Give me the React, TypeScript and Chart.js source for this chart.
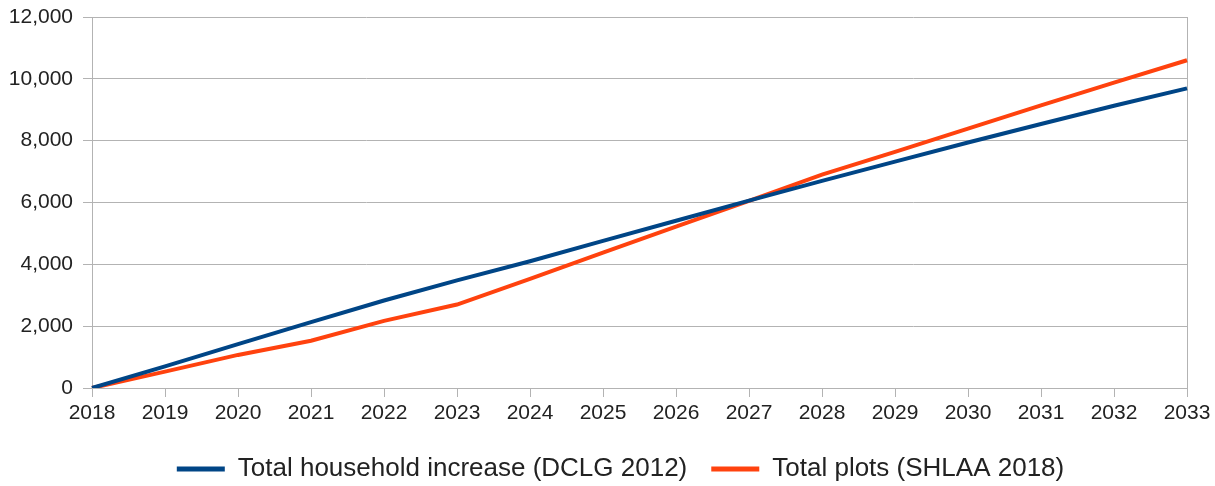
import React, { useEffect, useRef } from "react";
import { Chart, registerables } from "chart.js";

Chart.register(...registerables);

const years = ["2018","2019","2020","2021","2022","2023","2024","2025","2026","2027","2028","2029","2030","2031","2032","2033"];
const householdIncrease = [0, 700, 1420, 2130, 2830, 3480, 4100, 4760, 5410, 6060, 6700, 7320, 7940, 8540, 9130, 9690];
const totalPlots = [0, 530, 1070, 1530, 2170, 2700, 3530, 4380, 5220, 6050, 6900, 7640, 8390, 9140, 9880, 10600];
const seriesNames = ["Total household increase (DCLG 2012)", "Total plots (SHLAA 2018)"];

const BLUE = "#004586";
const ORANGE = "#ff420e";
const GRID = "#b3b3b3";
const TEXT = "#222222";
const FONT = "'Liberation Sans', Arial, sans-serif";

const borderPlugin = {
  id: "rightBorder",
  afterLayout(chart: any) {
    if (chart.legend) {
      chart.legend.left += 54;
    }
  },
  beforeDatasetsDraw(chart: any) {
    const { ctx, chartArea } = chart;
    ctx.save();
    ctx.strokeStyle = GRID;
    ctx.lineWidth = 1;
    ctx.beginPath();
    ctx.moveTo(Math.round(chartArea.right) + 0.5, chartArea.top);
    ctx.lineTo(Math.round(chartArea.right) + 0.5, chartArea.bottom);
    ctx.stroke();
    ctx.restore();
  },
};

export default function App() {
  const ref = useRef<HTMLCanvasElement | null>(null);
  useEffect(() => {
    document.body.style.margin = "0";
    const canvas = ref.current!;
    const chart = new Chart(canvas, {
      type: "line",
      data: {
        labels: years,
        datasets: [
          {
            label: seriesNames[0],
            data: householdIncrease,
            borderColor: BLUE,
            backgroundColor: BLUE,
            borderWidth: 4,
            pointRadius: 0,
            tension: 0,
          },
          {
            label: seriesNames[1],
            data: totalPlots,
            borderColor: ORANGE,
            backgroundColor: ORANGE,
            borderWidth: 4,
            pointRadius: 0,
            tension: 0,
          },
        ],
      },
      options: {
        animation: false,
        responsive: false,
        maintainAspectRatio: false,
        layout: { padding: { top: 17, right: 28, left: 0, bottom: 0 } },
        plugins: {
          tooltip: { enabled: false },
          legend: {
            position: "bottom",
            maxHeight: 54,
            labels: {
              boxWidth: 48,
              boxHeight: 5,
              padding: 24,
              color: TEXT,
              font: { family: FONT, size: 26 },
              generateLabels: (c: any) =>
                Chart.defaults.plugins.legend.labels
                  .generateLabels(c)
                  .map((i: any) => ({ ...i, lineWidth: 0 })),
            },
          },
        },
        scales: {
          x: {
            offset: false,
            afterFit: (s: any) => {
              s.height = 44;
            },
            grid: {
              drawOnChartArea: false,
              drawTicks: true,
              tickLength: 9,
              color: GRID,
            },
            border: { color: GRID },
            ticks: {
              color: TEXT,
              padding: 4,
              maxRotation: 0,
              autoSkip: false,
              font: { family: FONT, size: 21 },
            },
          },
          y: {
            min: 0,
            max: 12000,
            afterFit: (s: any) => {
              s.width = 92;
            },
            grid: { color: GRID, tickLength: 9, drawTicks: true },
            border: { color: GRID },
            ticks: {
              stepSize: 2000,
              color: TEXT,
              padding: 10,
              font: { family: FONT, size: 21, lineHeight: 0.6 },
              callback: (v: any) => Number(v).toLocaleString("en-US"),
            },
          },
        },
      },
      plugins: [borderPlugin],
    });
    return () => chart.destroy();
  }, []);
  return <canvas ref={ref} width={1215} height={486} style={{ display: "block" }} />;
}
